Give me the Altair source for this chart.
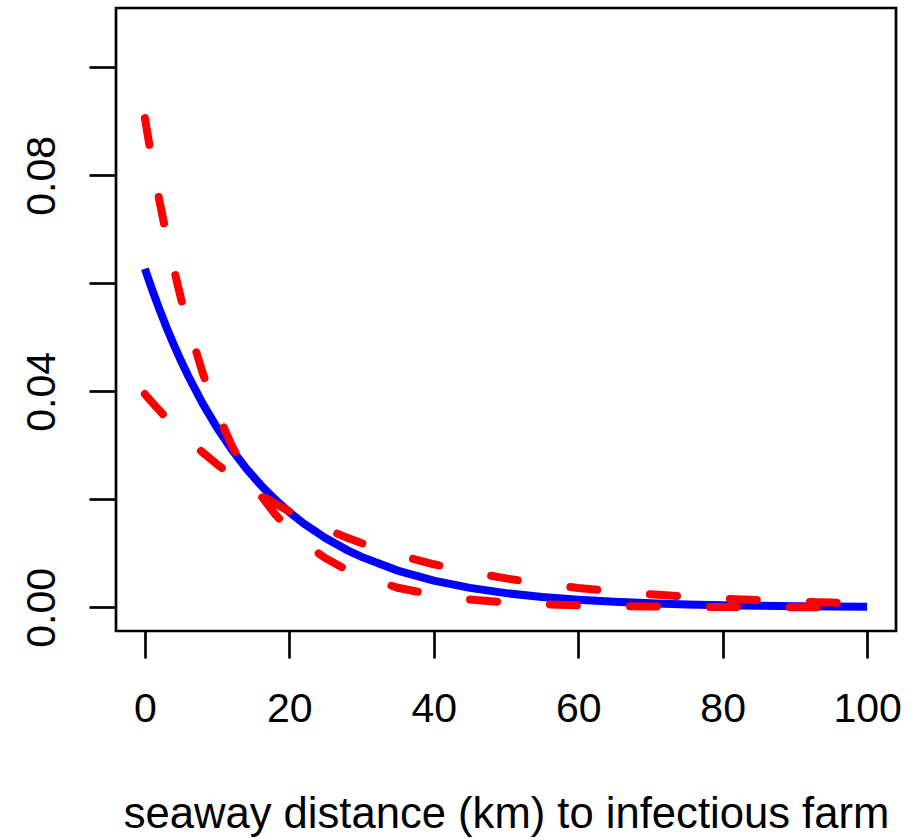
import altair as alt
import pandas as pd

# distance (km)
dist = [0, 1, 2, 3, 4, 5, 6, 8, 10, 12, 14, 16, 18, 20, 22, 25, 28, 30, 35, 40,
        45, 50, 55, 60, 65, 70, 75, 80, 85, 90, 95, 100]
# estimate (blue solid)
est = [0.0627, 0.05884, 0.05523, 0.05183, 0.04864, 0.04565, 0.04284, 0.03773,
       0.03323, 0.02927, 0.02578, 0.02270, 0.02000, 0.01761, 0.01551, 0.01282,
       0.01060, 0.00934, 0.00680, 0.00495, 0.00360, 0.00262, 0.00191, 0.00139,
       0.00101, 0.00074, 0.00054, 0.00039, 0.00028, 0.00021, 0.00015, 0.00011]
# bound starting high (red dashed)
bound_a = [0.0906, 0.08264, 0.07537, 0.06875, 0.06271, 0.05719, 0.05217, 0.04340,
           0.03610, 0.03004, 0.02499, 0.02079, 0.01729, 0.01439, 0.01197, 0.00909,
           0.00690, 0.00574, 0.00362, 0.00229, 0.00144, 0.00091, 0.00058, 0.00036,
           0.00023, 0.00014, 0.00009, 0.00006, 0.00004, 0.00002, 0.00001, 0.00001]
# bound starting low (red dashed)
bound_b = [0.0395, 0.03795, 0.03646, 0.03503, 0.03366, 0.03234, 0.03107, 0.02868,
           0.02648, 0.02444, 0.02256, 0.02083, 0.01923, 0.01775, 0.01638, 0.01453,
           0.01289, 0.01190, 0.00974, 0.00797, 0.00653, 0.00535, 0.00438, 0.00358,
           0.00293, 0.00240, 0.00197, 0.00161, 0.00132, 0.00108, 0.00088, 0.00072]

x_ticks = [0, 20, 40, 60, 80, 100]
y_ticks = [0.0, 0.02, 0.04, 0.06, 0.08, 0.10]

df_est = pd.DataFrame({"d": dist, "v": est})
df_bounds = pd.concat([
    pd.DataFrame({"d": dist, "v": bound_a, "s": "a"}),
    pd.DataFrame({"d": dist, "v": bound_b, "s": "b"}),
])

FONT = "Liberation Sans"
W, H = 780, 623

xscale = alt.Scale(domain=[-4, 104], nice=False, zero=False)
yscale = alt.Scale(domain=[-0.00439, 0.111], nice=False, zero=False)

xaxis = alt.Axis(
    values=x_ticks, title="seaway distance (km) to infectious farm",
    grid=False, domain=False, tickColor="black", tickWidth=2.7, tickSize=27,
    labelFont=FONT, labelFontSize=41, labelColor="black", labelPadding=31,
    labelBaseline="top", labelFlush=False,
    titleFont=FONT, titleFontSize=43.6, titleFontWeight="normal", titleColor="black",
    titleBaseline="alphabetic", titleY=196, titleX=W / 2, titleAlign="center",
)
yaxis = alt.Axis(
    values=y_ticks, title=None, grid=False, domain=False,
    tickColor="black", tickWidth=2.7, tickSize=27,
    labelExpr="(round(datum.value*100) % 4 == 0) ? format(datum.value, '.2f') : ''",
    labelFont=FONT, labelFontSize=41, labelColor="black", labelAngle=-90,
    labelAlign="center", labelBaseline="alphabetic", labelPadding=35,
    labelFlush=False,
)

blue = alt.Chart(df_est).mark_line(color="#0000FF", strokeWidth=8, clip=True).encode(
    x=alt.X("d:Q", scale=xscale, axis=xaxis),
    y=alt.Y("v:Q", scale=yscale, axis=yaxis),
    order="d:Q",
)
red = alt.Chart(df_bounds).mark_line(
    color="#FF0000", strokeWidth=8, strokeDash=[27, 53], strokeCap="round", clip=True
).encode(
    x=alt.X("d:Q", scale=xscale),
    y=alt.Y("v:Q", scale=yscale),
    detail="s:N",
    order="d:Q",
)

chart = alt.layer(blue, red).properties(
    width=W, height=H,
    autosize=alt.AutoSizeParams(type="none"),
    padding={"left": 116, "top": 8, "right": 28, "bottom": 209},
    background="white",
).configure_view(stroke="black", strokeWidth=2.7)

chart.save("out.html", embed_options={"renderer": "svg", "actions": False})
